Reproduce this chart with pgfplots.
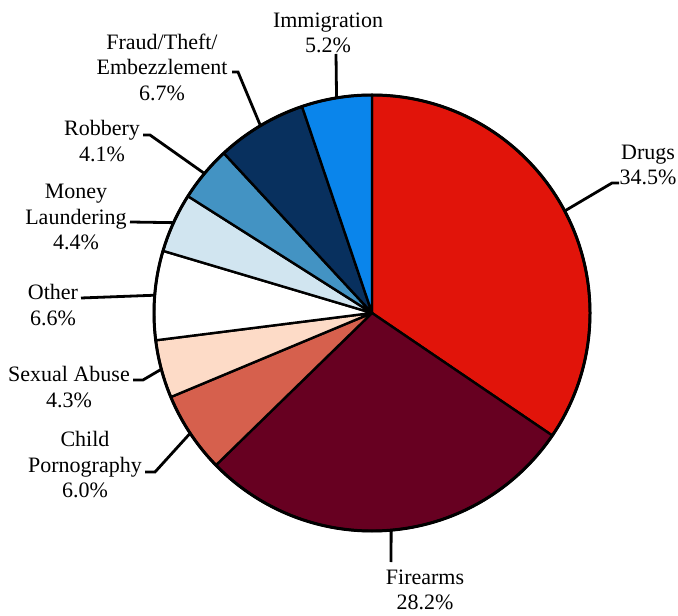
\documentclass[border=0pt]{standalone}
\usepackage{fontspec}
\setmainfont{Liberation Serif}
\usepackage{pgfplots}
\pgfplotsset{compat=1.18}

% shares in percent, clockwise from 12 o'clock
\def\shares{34.5,28.2,6.0,4.3,6.6,4.4,4.1,6.7,5.2}
\gdef\cum{0}
\foreach \v [count=\i from 0] in \shares {%
  \pgfmathsetmacro\a{90-3.6*\cum}%
  \pgfmathsetmacro\b{90-3.6*(\cum+\v)}%
  \pgfmathsetmacro\m{(\a+\b)/2}%
  \expandafter\xdef\csname sa\i\endcsname{\a}%
  \expandafter\xdef\csname sb\i\endcsname{\b}%
  \expandafter\xdef\csname sm\i\endcsname{\m}%
  \pgfmathsetmacro\c{\cum+\v}%
  \xdef\cum{\c}%
}

\definecolor{c0}{HTML}{E1140A}
\definecolor{c1}{HTML}{670021}
\definecolor{c2}{HTML}{D6604D}
\definecolor{c3}{HTML}{FDDBC7}
\definecolor{c4}{HTML}{FFFFFF}
\definecolor{c5}{HTML}{D1E5F0}
\definecolor{c6}{HTML}{4393C3}
\definecolor{c7}{HTML}{08305E}
\definecolor{c8}{HTML}{0A85EB}

\tikzset{
  lbl/.style={font=\fontsize{11}{12.75}\selectfont, align=center, inner sep=0pt},
  lead/.style={line width=1.4pt},
}

\begin{document}
\begin{tikzpicture}
\begin{axis}[
    hide axis,
    x=0.5pt, y=0.5pt,
    xmin=0, xmax=678,
    ymin=0, ymax=615,
    clip=false,
]

% leader lines
\draw[lead] (axis cs:372,302) ++(\csname sm0\endcsname:109pt) -- (axis cs:612,432) -- (axis cs:619,432);
\draw[lead] (axis cs:372,302) ++(\csname sm1\endcsname:109pt) -- (axis cs:391,53);
\draw[lead] (axis cs:372,302) ++(\csname sm2\endcsname:109pt) -- (axis cs:155,143) -- (axis cs:145,143);
\draw[lead] (axis cs:372,302) ++(\csname sm3\endcsname:109pt) -- (axis cs:143,235) -- (axis cs:133,235);
\draw[lead] (axis cs:372,302) ++(\csname sm4\endcsname:109pt) -- (axis cs:81,317);
\draw[lead] (axis cs:372,302) ++(\csname sm5\endcsname:109pt) -- (axis cs:130,393);
\draw[lead] (axis cs:372,302) ++(\csname sm6\endcsname:109pt) -- (axis cs:150,480) -- (axis cs:143,480);
\draw[lead] (axis cs:372,302) ++(\csname sm7\endcsname:109pt) -- (axis cs:238,543) -- (axis cs:232,543);
\draw[lead] (axis cs:372,302) ++(\csname sm8\endcsname:109pt) -- (axis cs:336,561);

% wedges
\pgfplotsinvokeforeach{0,...,8}{
  \filldraw[fill=c#1, draw=black, line width=1.2pt, line join=round]
    (axis cs:372,302) -- ++(\csname sa#1\endcsname:109pt)
    arc[start angle=\csname sa#1\endcsname, end angle=\csname sb#1\endcsname, radius=109pt] -- cycle;
}
\draw[line width=1.5pt] (axis cs:372,302) circle[radius=109pt];

% labels
\node[lbl] at (axis cs:648,450) {Drugs\\34.5\%};
\node[lbl] at (axis cs:425,25) {Firearms\\28.2\%};
\node[lbl] at (axis cs:85,150) {Child\\Pornography\\6.0\%};
\node[lbl] at (axis cs:69,228) {Sexual Abuse\\4.3\%};
\node[lbl] at (axis cs:53,310) {Other\\6.6\%};
\node[lbl] at (axis cs:76,398) {Money\\Laundering\\4.4\%};
\node[lbl] at (axis cs:102,474) {Robbery\\4.1\%};
\node[lbl] at (axis cs:162,548) {Fraud/Theft/\\Embezzlement\\6.7\%};
\node[lbl] at (axis cs:328,582) {Immigration\\5.2\%};
\end{axis}
\pgfresetboundingbox
\path (current axis.south west) rectangle (current axis.north east);
\end{tikzpicture}
\end{document}
